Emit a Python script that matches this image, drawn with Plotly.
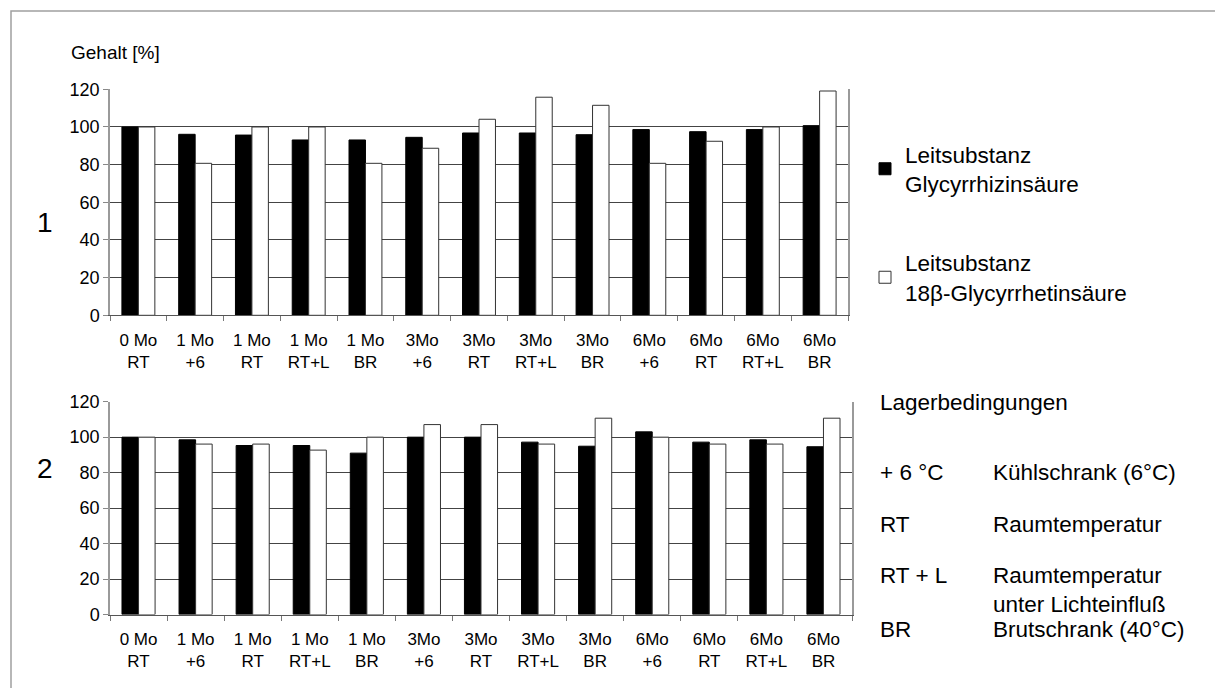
import plotly.graph_objects as go

# Storage time and storage condition for each sample
months = ["0 Mo", "1 Mo", "1 Mo", "1 Mo", "1 Mo", "3Mo", "3Mo", "3Mo", "3Mo",
          "6Mo", "6Mo", "6Mo", "6Mo"]
conditions = ["RT", "+6", "RT", "RT+L", "BR", "+6", "RT", "RT+L", "BR",
              "+6", "RT", "RT+L", "BR"]

# Content [%] of the two marker substances, batch 1 and batch 2
glycyrrhizin_1 = [100, 96.1, 95.7, 93.1, 93.1, 94.5, 96.8, 96.8, 95.9, 98.6, 97.5, 98.6, 100.7]
glycyrrhetin_1 = [100, 80.7, 100, 100, 80.7, 88.7, 104.1, 115.8, 111.5, 80.7, 92.4, 100, 119.1]
glycyrrhizin_2 = [100, 98.5, 95.3, 95.3, 91.0, 100, 100, 97.2, 94.9, 103.0, 97.2, 98.5, 94.6]
glycyrrhetin_2 = [100, 96.1, 96.1, 92.7, 100, 107.1, 107.1, 96.1, 110.7, 100, 96.1, 96.1, 110.7]

series_names = ["Leitsubstanz<br>Glycyrrhizinsäure", "Leitsubstanz<br>18β-Glycyrrhetinsäure"]
y_ticks = [0, 20, 40, 60, 80, 100, 120]

# Storage-condition key: code, description
conditions_key = [
    ("+ 6 °C", "Kühlschrank (6°C)"),
    ("RT", "Raumtemperatur"),
    ("RT + L", "Raumtemperatur<br>unter Lichteinfluß"),
    ("BR", "Brutschrank (40°C)"),
]

FONT = "Liberation Sans, Arial, sans-serif"
W, H = 1215, 688

categories = [f"{m}<br>{c}" for m, c in zip(months, conditions)]

fig = go.Figure()

for i, (black, white) in enumerate([(glycyrrhizin_1, glycyrrhetin_1),
                                    (glycyrrhizin_2, glycyrrhetin_2)]):
    xa = "x" if i == 0 else "x2"
    ya = "y" if i == 0 else "y2"
    fig.add_trace(go.Bar(
        x=categories, y=black, xaxis=xa, yaxis=ya,
        name=series_names[0], legendgroup="g1", showlegend=(i == 0),
        marker=dict(color="black", line=dict(color="black", width=1)),
    ))
    fig.add_trace(go.Bar(
        x=categories, y=white, xaxis=xa, yaxis=ya,
        name=series_names[1], legendgroup="g2", showlegend=(i == 0),
        marker=dict(color="white", line=dict(color="#333333", width=1)),
    ))


def px_x(v):
    return v / W


def px_y(v):
    return 1 - v / H


xaxis_common = dict(
    type="category", showgrid=False, zeroline=False, automargin=False,
    showline=True, linecolor="#555555", linewidth=1,
    ticks="outside", tickson="boundaries", ticklen=5, tickcolor="#777777",
    ticklabelstandoff=9,
    tickfont=dict(family=FONT, size=17, color="black"),
    fixedrange=True,
)
yaxis_common = dict(
    range=[0, 120], tickvals=y_ticks, showgrid=True, automargin=False,
    gridcolor="#444444", gridwidth=1, zeroline=False,
    showline=True, linecolor="#9a9a9a", linewidth=1.5, mirror=True,
    ticks="outside", ticklen=5, tickcolor="#888888",
    tickfont=dict(family=FONT, size=18, color="black"),
    fixedrange=True,
)

fig.update_layout(
    width=W, height=H, autosize=False,
    margin=dict(l=0, r=0, t=0, b=0, pad=0),
    paper_bgcolor="white", plot_bgcolor="white",
    barmode="group", bargap=0.42, bargroupgap=0,
    font=dict(family=FONT, color="black"),
    xaxis=dict(domain=[px_x(110), px_x(848)], anchor="y", **xaxis_common),
    yaxis=dict(domain=[px_y(315.3), px_y(89.3)], anchor="x", **yaxis_common),
    xaxis2=dict(domain=[px_x(110), px_x(852)], anchor="y2", **xaxis_common),
    yaxis2=dict(domain=[px_y(614.5), px_y(401.7)], anchor="x2", **yaxis_common),
    legend=dict(
        x=px_x(865), y=px_y(133), xanchor="left", yanchor="top",
        font=dict(family=FONT, size=22.5, color="black"),
        tracegroupgap=47, valign="middle", bgcolor="rgba(0,0,0,0)",
    ),
    showlegend=True,
)

annotations = [
    dict(text="Gehalt [%]", x=px_x(69), y=px_y(52.5), xanchor="left", yanchor="middle",
         font=dict(size=19)),
    dict(text="1", x=px_x(45), y=px_y(222), xanchor="center", yanchor="middle",
         font=dict(size=28)),
    dict(text="2", x=px_x(45), y=px_y(468), xanchor="center", yanchor="middle",
         font=dict(size=28)),
    dict(text="Lagerbedingungen", x=px_x(878), y=px_y(402), xanchor="left",
         yanchor="middle", font=dict(size=22.5)),
]

# Key rows: vertical centre of the first text line of each row
row_y = [472, 524, 575, 629]
line_h = 1.3 * 22.5
for (code, desc), yy in zip(conditions_key, row_y):
    n_lines = desc.count("<br>") + 1
    annotations.append(dict(text=code, x=px_x(878), y=px_y(yy), xanchor="left",
                            yanchor="middle", font=dict(size=22.5)))
    annotations.append(dict(text=desc, x=px_x(991),
                            y=px_y(yy + (n_lines - 1) * line_h / 2),
                            xanchor="left", yanchor="middle", align="left",
                            font=dict(size=22.5)))

for a in annotations:
    a.update(xref="paper", yref="paper", showarrow=False)
    a["font"].update(family=FONT, color="black")
fig.update_layout(annotations=annotations)

# Outer frame of the figure
fig.add_shape(type="rect", xref="paper", yref="paper",
              x0=px_x(11), x1=px_x(1240), y0=px_y(710), y1=px_y(11),
              line=dict(color="#a0a0a0", width=1.5), fillcolor="rgba(0,0,0,0)",
              layer="below")

fig.write_html("out.html")
